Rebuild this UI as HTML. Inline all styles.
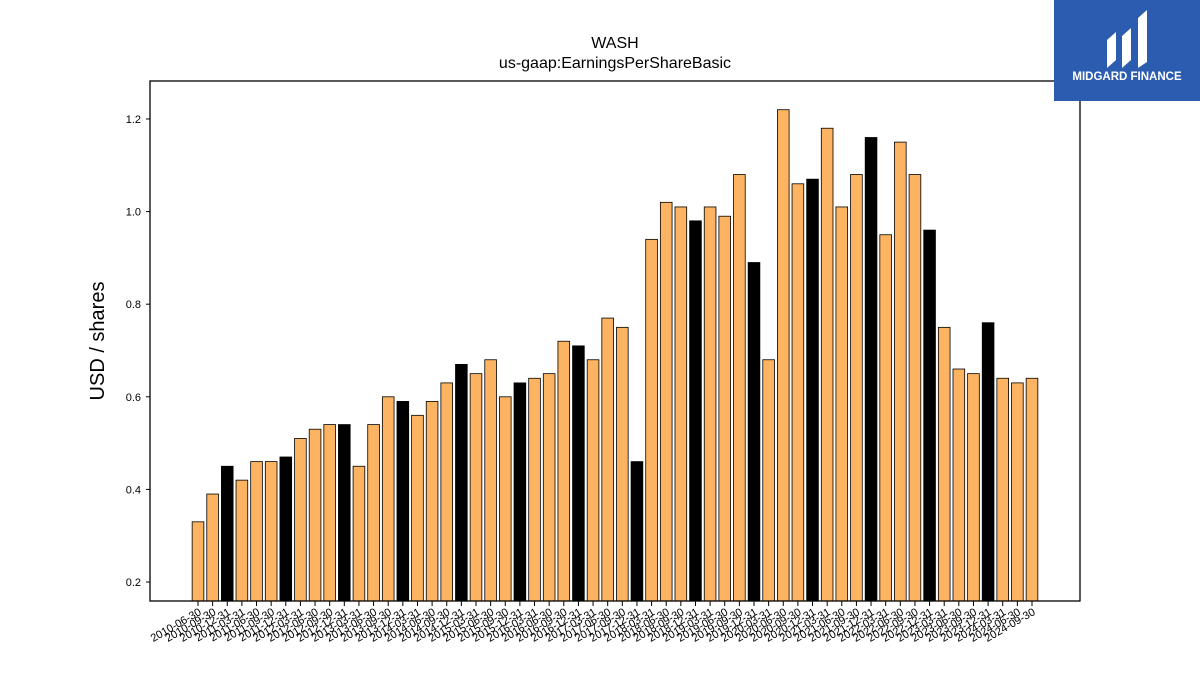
<!DOCTYPE html>
<html><head><meta charset="utf-8"><style>
body{margin:0;background:#fff;font-family:"Liberation Sans","DejaVu Sans",sans-serif}
</style></head><body>
<svg width="1200" height="675" xmlns="http://www.w3.org/2000/svg">
<rect width="1200" height="675" fill="#fff"/>
<text x="615" y="48" text-anchor="middle" font-size="16">WASH</text>
<text x="615" y="68" text-anchor="middle" font-size="16">us-gaap:EarningsPerShareBasic</text>
<text transform="translate(104,341) rotate(-90)" text-anchor="middle" font-size="20">USD / shares</text>
<g id="bars"></g>
<g id="yticks"></g>
<g id="xticks"></g>
<rect x="150" y="81" width="930" height="520" fill="none" stroke="#000" stroke-width="1.3"/>
<g>
<rect x="1054" y="0" width="146" height="101" fill="#2b5cb0"/>
<path d="M1107 68 L1107 40 L1116 32 L1116 60 Z M1122 68 L1122 36 L1131 28 L1131 60 Z M1138 68 L1138 18 L1147 10 L1147 62 Z" fill="#fff"/>
<text x="1127" y="80" text-anchor="middle" font-size="11.5" font-weight="bold" fill="#fff">MIDGARD FINANCE</text>
</g>
</svg>
<script>
const categories=["2010-06-30","2010-09-30","2010-12-31","2011-03-31","2011-06-30","2011-09-30","2011-12-31","2012-03-31","2012-06-30","2012-09-30","2012-12-31","2013-03-31","2013-06-30","2013-09-30","2013-12-31","2014-03-31","2014-06-30","2014-09-30","2014-12-31","2015-03-31","2015-06-30","2015-09-30","2015-12-31","2016-03-31","2016-06-30","2016-09-30","2016-12-31","2017-03-31","2017-06-30","2017-09-30","2017-12-31","2018-03-31","2018-06-30","2018-09-30","2018-12-31","2019-03-31","2019-06-30","2019-09-30","2019-12-31","2020-03-31","2020-06-30","2020-09-30","2020-12-31","2021-03-31","2021-06-30","2021-09-30","2021-12-31","2022-03-31","2022-06-30","2022-09-30","2022-12-31","2023-03-31","2023-06-30","2023-09-30","2023-12-31","2024-03-31","2024-06-30","2024-09-30"];
const values=[0.33,0.39,0.45,0.42,0.46,0.46,0.47,0.51,0.53,0.54,0.54,0.45,0.54,0.60,0.59,0.56,0.59,0.63,0.67,0.65,0.68,0.60,0.63,0.64,0.65,0.72,0.71,0.68,0.77,0.75,0.46,0.94,1.02,1.01,0.98,1.01,0.99,1.08,0.89,0.68,1.22,1.06,1.07,1.18,1.01,1.08,1.16,0.95,1.15,1.08,0.96,0.75,0.66,0.65,0.76,0.64,0.63,0.64];
const yTicks=[0.2,0.4,0.6,0.8,1.0,1.2];
const yTickLabels=["0.2","0.4","0.6","0.8","1.0","1.2"];
const NS="http://www.w3.org/2000/svg";
const yMin=0.159,yMax=1.282,plotTop=81,plotBot=601;
function y(v){return plotBot-(v-yMin)/(yMax-yMin)*(plotBot-plotTop);}
const x0=198,x1=1032;
function x(i){return x0+i*(x1-x0)/(categories.length-1);}
const step=(x1-x0)/(categories.length-1),bw=step*0.8;
const bars=document.getElementById('bars');
values.forEach((v,i)=>{
 const r=document.createElementNS(NS,'rect');
 r.setAttribute('x',x(i)-bw/2);r.setAttribute('y',y(v));
 r.setAttribute('width',bw);r.setAttribute('height',plotBot-y(v));
 r.setAttribute('fill',categories[i].endsWith('12-31')?'#000':'#fdb462');
 r.setAttribute('stroke','#000');r.setAttribute('stroke-width','0.8');
 
 
 bars.appendChild(r);
});
const yt=document.getElementById('yticks');
yTicks.forEach((t,k)=>{
 const l=document.createElementNS(NS,'line');
 l.setAttribute('x1',146);l.setAttribute('x2',150);l.setAttribute('y1',y(t));l.setAttribute('y2',y(t));l.setAttribute('stroke','#000');
 
 
 yt.appendChild(l);
 const tx=document.createElementNS(NS,'text');
 tx.setAttribute('x',141);tx.setAttribute('y',y(t)+4);tx.setAttribute('text-anchor','end');tx.setAttribute('font-size','11');
 tx.textContent=yTickLabels[k];
 
 
 yt.appendChild(tx);
});
const xt=document.getElementById('xticks');
categories.forEach((c,i)=>{
 const l=document.createElementNS(NS,'line');
 l.setAttribute('x1',x(i));l.setAttribute('x2',x(i));l.setAttribute('y1',601);l.setAttribute('y2',606);l.setAttribute('stroke','#000');
 
 
 xt.appendChild(l);
 const tx=document.createElementNS(NS,'text');
 tx.setAttribute('transform','translate('+(x(i)+4)+',614) rotate(-30)');
 tx.setAttribute('text-anchor','end');tx.setAttribute('font-size','11');
 tx.textContent=c;
 
 
 xt.appendChild(tx);
});
</script>
</body></html>
